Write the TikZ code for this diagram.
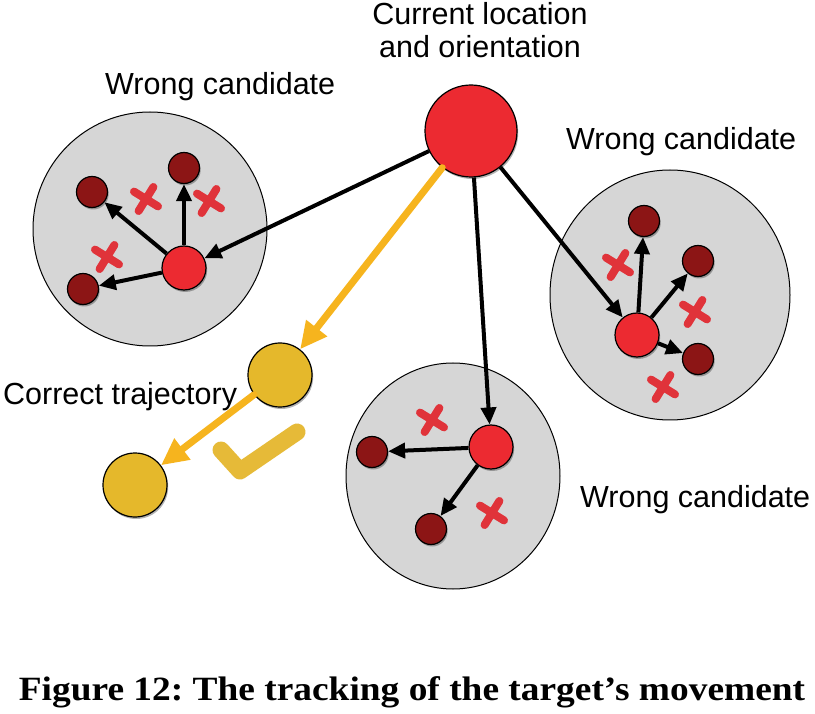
\documentclass[tikz,border=0pt]{standalone}
\usepackage{fontspec}
\setmainfont{Liberation Sans}
\newfontfamily\capfont{Liberation Serif}
\usetikzlibrary{arrows.meta,shapes.geometric,shadows}
\definecolor{nodered}{HTML}{EC2A31}
\definecolor{darkred}{HTML}{8C1515}
\definecolor{regiongray}{HTML}{D6D6D6}
\definecolor{xred}{HTML}{E0333A}
\definecolor{ygold}{HTML}{E5B82B}
\definecolor{yarrow}{HTML}{F6B41E}
\definecolor{checkgold}{HTML}{E6BA38}
\frenchspacing
\tikzset{
  region/.style={draw=black, line width=1pt, fill=regiongray, inner sep=0pt},
  shad/.style={drop shadow={shadow xshift=1.2pt, shadow yshift=-2pt, opacity=0.3, fill=black}},
  bignode/.style={circle, draw=black, line width=1.2pt, fill=nodered, minimum size=92pt, inner sep=0pt, shad},
  rednode/.style={circle, draw=black, line width=1.2pt, fill=nodered, minimum size=44pt, inner sep=0pt, shad},
  darknode/.style={circle, draw=black, line width=1.2pt, fill=darkred, minimum size=31pt, inner sep=0pt, shad},
  ynode/.style={circle, draw=black, line width=1.2pt, fill=ygold, minimum size=64pt, inner sep=0pt, shad},
  blk/.style={draw=black, line width=4pt, -{Triangle[length=17pt,width=15pt]}},
  yarr/.style={draw=yarrow, line width=7pt, line cap=round, -{Triangle[length=27pt,width=25pt]}},
  xmark/.style={draw=xred, line width=8pt, line cap=round},
  lbl/.style={font=\fontsize{30.5}{36}\selectfont, inner sep=0pt},
  xmk/.pic={\draw[xmark] (-12,-7.4) -- (12,7.4) (7.4,-12) -- (-7.4,12);}
}
\begin{document}
\begin{tikzpicture}[x=1pt,y=-1pt]
\useasboundingbox[fill=white] (0,0) rectangle (815,714);

% regions
\node[region, circle, minimum size=234pt] (RL) at (150,229) {};
\node[region, ellipse, minimum width=240pt, minimum height=250pt] (RR) at (670,295) {};
\node[region, ellipse, minimum width=214pt, minimum height=226pt] (RB) at (453,476) {};

% crosses
\pic at (146,199) {xmk};
\pic at (209,201) {xmk};
\pic at (107,257) {xmk};
\pic at (618,265) {xmk};
\pic at (695,312) {xmk};
\pic at (663,387) {xmk};
\pic at (432,420) {xmk};
\pic at (492,513) {xmk};

% check mark
\draw[draw=checkgold, line width=17pt, line cap=round, line join=round]
  (221,450) -- (240,471) -- (297,432);

% nodes
\node[bignode] (C) at (471,131) {};
\node[rednode] (L) at (184,268) {};
\node[darknode] (L1) at (184,168) {};
\node[darknode] (L2) at (92,192) {};
\node[darknode] (L3) at (83,289) {};
\node[rednode] (R) at (637,335) {};
\node[darknode] (R1) at (644,221) {};
\node[darknode] (R2) at (698,261) {};
\node[darknode] (R3) at (698,359) {};
\node[rednode] (B) at (491,447) {};
\node[darknode] (B1) at (372,452) {};
\node[darknode] (B2) at (431,529) {};
\node[ynode] (Y1) at (280,375) {};
\node[ynode] (Y2) at (135,485) {};

% connectors
\draw[blk] (C) -- (L);
\draw[blk] (C) -- (B);
\draw[blk] (C) -- (R);
\draw[blk] (L) -- (L1);
\draw[blk] (L) -- (L2);
\draw[blk] (L) -- (L3);
\draw[blk] (R) -- (R1);
\draw[blk] (R) -- (R2);
\draw[blk] (R) -- (R3);
\draw[blk] (B) -- (B1);
\draw[blk] (B) -- (B2);
\draw[yarr] (C) -- (Y1);
\draw[yarr] (Y1) -- (Y2);

% labels
\node[lbl, anchor=base] (t1) at (480,25) {Current location};
\node[lbl, anchor=base] (t2) at (480,58) {and orientation};
\node[lbl, anchor=base west] (w1) at (105,95) {Wrong candidate};
\node[lbl, anchor=base west] (w2) at (566,150) {Wrong candidate};
\node[lbl, anchor=base west] (w3) at (580,507) {Wrong candidate};
\node[lbl, anchor=base west] (ct) at (3,405) {Correct trajectory};
\node[inner sep=0pt, anchor=base, xscale=1.1, font=\capfont\bfseries\fontsize{34}{40}\selectfont] (cap) at (412,700) {Figure 12: The tracking of the target’s movement};
\end{tikzpicture}
\end{document}
